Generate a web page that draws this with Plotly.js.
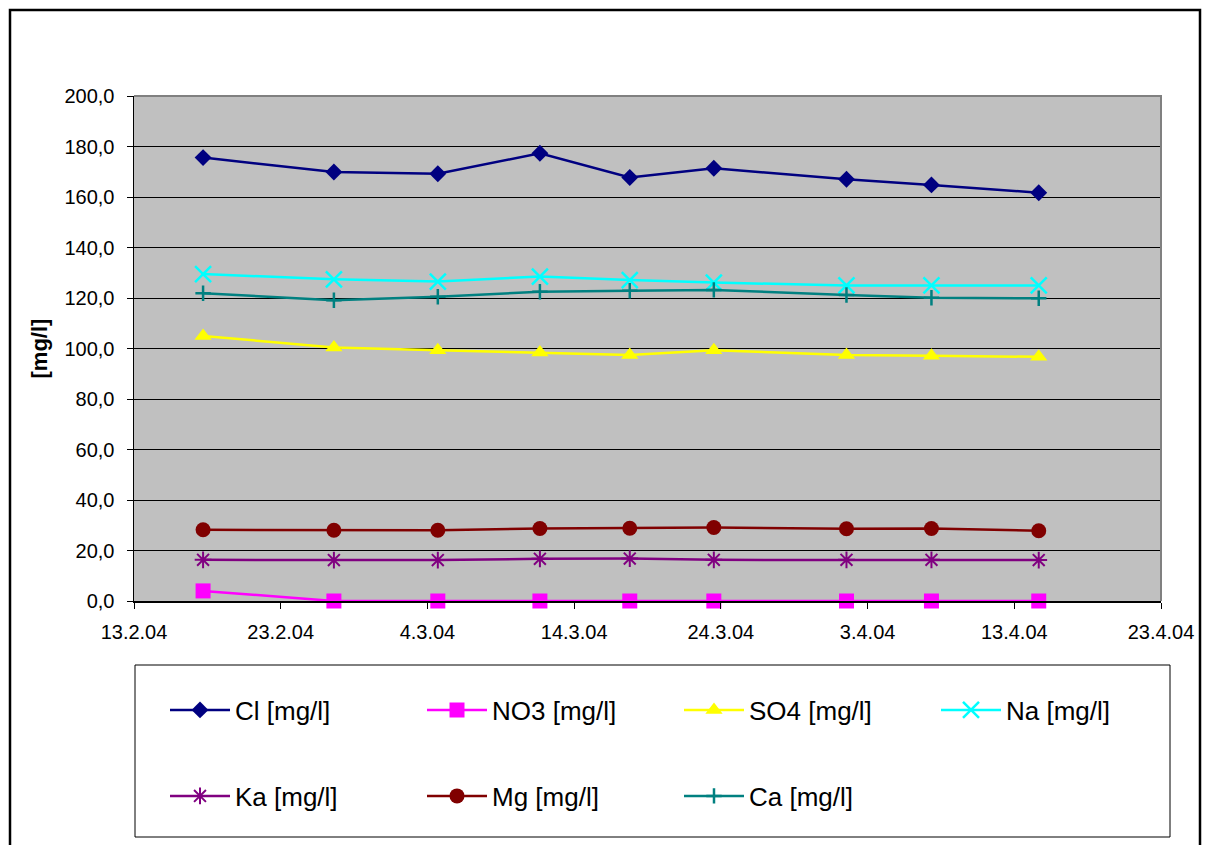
<!DOCTYPE html>
<html>
<head>
<meta charset="utf-8">
<script src="https://cdn.plot.ly/plotly-3.0.1.min.js"></script>
<style>
  html, body { margin: 0; padding: 0; background: #ffffff; }
  #chart { width: 1208px; height: 845px; }
</style>
</head>
<body>
<div id="chart"></div>
<script>
// Sampling dates (with time of sampling)
const sampleDates = [
  '2004-02-17 17:00', '2004-02-26 15:00', '2004-03-04 17:00',
  '2004-03-11 16:00', '2004-03-17 19:00', '2004-03-23 12:30',
  '2004-04-01 13:30', '2004-04-07 08:30', '2004-04-14 16:00'
];

// Concentrations in mg/l
const cl  = [175.6, 169.9, 169.2, 177.3, 167.7, 171.4, 167.0, 164.8, 161.7];
const no3 = [4.0, 0.0, 0.0, 0.0, 0.0, 0.0, 0.0, 0.0, 0.0];
const so4 = [105.0, 100.4, 99.3, 98.4, 97.4, 99.3, 97.4, 97.1, 96.7];
const na  = [129.5, 127.4, 126.5, 128.5, 127.1, 126.1, 125.0, 125.0, 125.0];
const ka  = [16.3, 16.2, 16.2, 16.7, 16.8, 16.3, 16.3, 16.3, 16.2];
const mg  = [28.2, 28.0, 28.0, 28.7, 28.8, 29.1, 28.6, 28.7, 27.8];
const ca  = [121.9, 119.1, 120.5, 122.5, 122.9, 123.2, 121.2, 120.1, 119.9];

const seriesNames = ['Cl [mg/l]', 'NO3 [mg/l]', 'SO4 [mg/l]', 'Na [mg/l]',
                     'Ka [mg/l]', 'Mg [mg/l]', 'Ca [mg/l]'];

// Plot-area geometry in pixels
const W = 1208, H = 845;
const M = { l: 134, r: 47, t: 96, b: 244 };
const plotW = W - M.l - M.r, plotH = H - M.t - M.b;
const px = x => (x - M.l) / plotW;            // pixel -> paper x
const py = y => (H - M.b - y) / plotH;        // pixel -> paper y
const cx = x => x / W;                        // pixel -> container x
const cy = y => 1 - y / H;                    // pixel -> container y

function series(y, name, color, symbol, size, legend, lineWidth) {
  return {
    x: sampleDates, y: y, name: name, type: 'scatter', mode: 'lines+markers',
    legend: legend,
    cliponaxis: false,
    line: { color: color, width: 2.5 },
    marker: { color: color, symbol: symbol, size: size,
              line: { color: color, width: lineWidth || 0 } }
  };
}

const traces = [
  series(cl,  seriesNames[0], '#000080', 'diamond', 13, 'legend'),
  series(no3, seriesNames[1], '#FF00FF', 'square', 15, 'legend'),
  series(so4, seriesNames[2], '#FFFF00', 'triangle-up', 15, 'legend'),
  series(na,  seriesNames[3], '#00FFFF', 'x-thin-open', 16, 'legend', 2.5),
  series(ka,  seriesNames[4], '#800080', 'asterisk-open', 14, 'legend2', 2),
  series(mg,  seriesNames[5], '#800000', 'circle', 15, 'legend2'),
  series(ca,  seriesNames[6], '#008080', 'cross-thin-open', 11, 'legend2', 2.5)
];

const legendCommon = {
  orientation: 'h',
  xref: 'container', yref: 'container',
  xanchor: 'left', yanchor: 'middle',
  bgcolor: 'rgba(0,0,0,0)', borderwidth: 0,
  font: { family: 'Liberation Sans, Arial, sans-serif', size: 26, color: '#000' },
  itemwidth: 60,
  entrywidth: 182, entrywidthmode: 'pixels',
  traceorder: 'normal'
};

const layout = {
  width: W, height: H,
  margin: M,
  paper_bgcolor: '#ffffff',
  plot_bgcolor: '#C0C0C0',
  separators: ', ',
  font: { family: 'Liberation Sans, Arial, sans-serif', size: 20, color: '#000' },
  showlegend: true,
  legend:  Object.assign({}, legendCommon, { x: cx(165), y: cy(710) }),
  legend2: Object.assign({}, legendCommon, { x: cx(165), y: cy(796) }),
  xaxis: {
    type: 'date',
    range: ['2004-02-13', '2004-04-23'],
    tick0: '2004-02-13', dtick: 10 * 24 * 3600 * 1000,
    tickformat: '%-d.%-m.%y',
    showgrid: false, zeroline: false,
    showline: true, linecolor: '#000', linewidth: 1.5,
    ticks: 'outside', ticklen: 6, tickcolor: '#000', tickwidth: 1,
    ticklabelstandoff: 6,
    tickfont: { size: 20 }
  },
  yaxis: {
    range: [0, 200], dtick: 20, tickformat: '.1f',
    showgrid: true, gridcolor: '#000', gridwidth: 1,
    zeroline: false,
    showline: true, linecolor: '#000', linewidth: 1.5,
    ticks: 'outside', ticklen: 6, tickcolor: '#000', tickwidth: 1,
    ticklabelstandoff: 8,
    tickfont: { size: 20 },
    title: { text: '<b>[mg/l]</b>', font: { size: 22 }, standoff: 10 }
  },
  shapes: [
    // outer chart frame
    { type: 'rect', xref: 'paper', yref: 'paper',
      x0: px(10), x1: px(1200), y0: py(852), y1: py(10),
      line: { color: '#000', width: 2.5 }, fillcolor: 'rgba(0,0,0,0)', layer: 'above' },
    // legend box
    { type: 'rect', xref: 'paper', yref: 'paper',
      x0: px(135), x1: px(1170), y0: py(837), y1: py(665),
      line: { color: '#000', width: 1 }, fillcolor: 'rgba(0,0,0,0)', layer: 'above' },
    // grey top and right edges of the plot area
    { type: 'path', xref: 'paper', yref: 'paper',
      path: 'M0,1 L1,1 L1,0',
      line: { color: '#808080', width: 2 }, layer: 'above' }
  ]
};

Plotly.newPlot('chart', traces, layout, { staticPlot: true, displayModeBar: false });
</script>
</body>
</html>
